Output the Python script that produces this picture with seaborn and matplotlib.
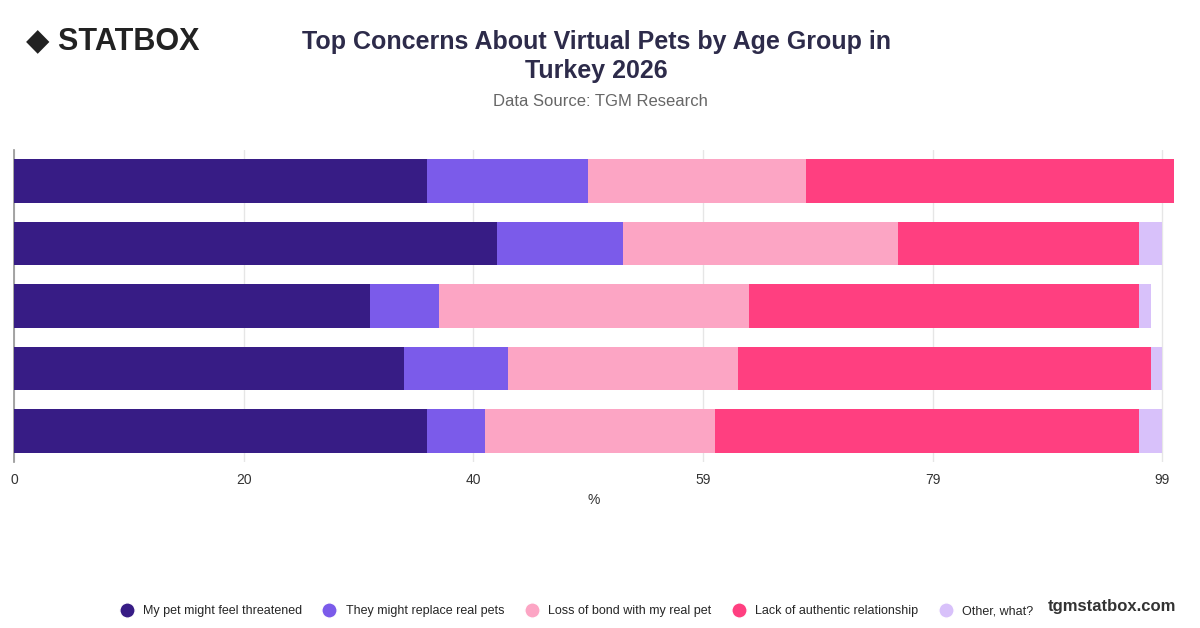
import matplotlib
matplotlib.use("Agg")
import matplotlib.pyplot as plt
import seaborn as sns
import pandas as pd
import numpy as np
from matplotlib.lines import Line2D

groups = ["18-24", "25-34", "35-44", "45-54", "55+"]
series = ["My pet might feel threatened", "They might replace real pets",
          "Loss of bond with my real pet", "Lack of authentic relationship", "Other, what?"]
threatened = [35.6, 41.6, 30.7, 33.6, 35.6]
replace = [13.9, 10.9, 5.9, 9.0, 5.0]
bond = [18.8, 23.7, 26.8, 19.8, 19.8]
authentic = [31.7, 20.8, 33.6, 35.6, 36.6]
other = [0.0, 2.0, 1.0, 1.0, 2.0]
colors = ["#371c85", "#7b5bea", "#fca5c4", "#ff3f80", "#d8c1fa"]
tick_vals = [0, 19.8, 39.6, 59.4, 79.2, 99]
tick_labels = ["0", "20", "40", "59", "79", "99"]

sns.set_theme(style="white")
plt.rcParams['font.family'] = ['Liberation Sans', 'DejaVu Sans']
fig = plt.figure(figsize=(12, 6.28), dpi=100)
ax = fig.add_axes([14/1200, 1-462/628, 1160/1200, 312/628])

vals = [threatened, replace, bond, authentic, other]
left = np.zeros(len(groups))
for name, v, c in zip(series, vals, colors):
    df = pd.DataFrame({"g": groups, "v": np.array(v) + left})
    sns.barplot(data=df, x="v", y="g", color=c, ax=ax, width=0.7, saturation=1, orient="h")
    left += np.array(v)
bars = ax.patches
n = len(groups)
for k in range(len(series)):
    for b in bars[k*n:(k+1)*n]:
        b.set_zorder(10 - k)
        b.set_linewidth(0)

ax.set_xlim(0, 100)
ax.set_xticks(tick_vals)
ax.set_xticklabels(tick_labels, fontsize=10, color="#333333")
ax.set_yticks([])
ax.set_ylabel("")
ax.set_xlabel("%", fontsize=10, color="#333333")
ax.grid(axis="x", color="#e6e6e6", linewidth=1, zorder=0)
ax.set_axisbelow(True)
for s in ["top", "right", "bottom"]:
    ax.spines[s].set_visible(False)
ax.spines["left"].set_color("#999999")
ax.tick_params(axis="x", length=0, pad=8)

fig.text(0.497, 0.91, "Top Concerns About Virtual Pets by Age Group in\nTurkey 2026",
         ha="center", va="center", fontsize=18, fontweight="bold", color="#2d2b4a", linespacing=1.3)
fig.text(0.5, 0.838, "Data Source: TGM Research", ha="center", va="center", fontsize=12, color="#666666")
fig.text(0.022, 0.935, "◆ STATBOX", ha="left", va="center", fontsize=22, fontweight="bold", color="#222222")
fig.text(0.98, 0.035, "tgmstatbox.com", ha="right", va="center", fontsize=12, fontweight="bold", color="#333333")

handles = [Line2D([0], [0], marker="o", color="w", markerfacecolor=c, markersize=11) for c in colors]
fig.legend(handles, series, loc="center", bbox_to_anchor=(0.478, 0.027),
           ncol=5, frameon=False, fontsize=9, handletextpad=0.3, columnspacing=1.2)
fig.savefig("out.png", dpi=100)
